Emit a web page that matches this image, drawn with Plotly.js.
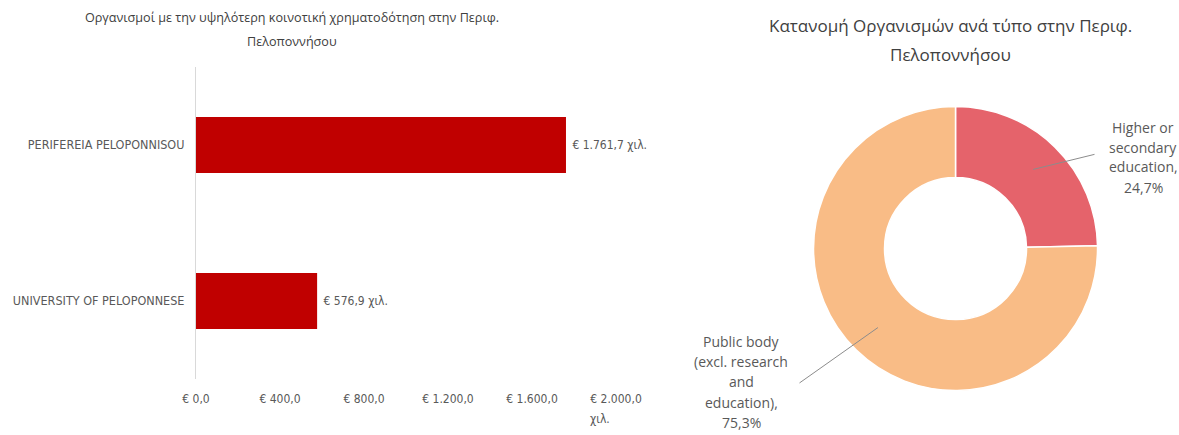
<!DOCTYPE html>
<html>
<head>
<meta charset="utf-8">
<script src="https://cdn.plot.ly/plotly-3.0.1.min.js"></script>
<style>html,body{margin:0;padding:0;background:#fff;}#chart{width:1179px;height:435px;}</style>
</head>
<body>
<div id="chart"></div>
<script>
// ---- data ----
const barCategories = ["PERIFEREIA PELOPONNISOU", "UNIVERSITY OF PELOPONNESE"];
const barValues = [1761.7, 576.9];
const barTickVals = [0, 400, 800, 1200, 1600, 2000];
const barUnit = "χιλ.";
const barTitleLines = ["Οργανισμοί με την υψηλότερη κοινοτική χρηματοδότηση στην Περιφ.", "Πελοποννήσου"];

const pieLabels = ["Higher or secondary education", "Public body (excl. research and education)"];
const pieLabelLines = [["Higher or", "secondary", "education,"], ["Public body", "(excl. research", "and", "education),"]];
const pieValues = [24.7, 75.3];
const pieColors = ["#E5636B", "#F9BC86"];
const pieTitleLines = ["Κατανομή Οργανισμών ανά τύπο στην Περιφ.", "Πελοποννήσου"];

function fmtNum(v) {
  const parts = v.toFixed(1).split(".");
  const intPart = parts[0].replace(/\B(?=(\d{3})+(?!\d))/g, ".");
  return intPart + "," + parts[1];
}
const tickText = barTickVals.map(v => "€ " + fmtNum(v));

const W = 1179, H = 435;
const smallFont = "DejaVu Sans Condensed, Liberation Sans, sans-serif";
const textGray = "#595959";
const pieDomX = [0.69, 0.9309];
const pieDomY = [0.1023, 0.7552];

const barTrace = {
  type: "bar",
  orientation: "h",
  y: barCategories,
  x: barValues,
  width: 0.36,
  marker: {color: "#C00000"},
  text: barValues.map(v => "\u00A0€ " + fmtNum(v) + " " + barUnit),
  textposition: "outside",
  textfont: {family: smallFont, size: 12, color: textGray},
  cliponaxis: false,
  hoverinfo: "none",
  xaxis: "x", yaxis: "y"
};

const pieTrace = {
  type: "pie",
  labels: pieLabels,
  values: pieValues,
  hole: 0.5,
  sort: false,
  direction: "clockwise",
  rotation: 0,
  marker: {colors: pieColors, line: {color: "#ffffff", width: 1.5}},
  textinfo: "none",
  showlegend: false,
  domain: {x: pieDomX, y: pieDomY}
};

// helper: multi-line text block as one annotation per line (pixel positions)
function textBlock(lines, cxPx, topPx, lineH, font) {
  return lines.map((t, i) => ({
    xref: "paper", yref: "paper", x: cxPx / W, y: 1 - (topPx + i * lineH) / H,
    xanchor: "center", yanchor: "middle", showarrow: false, text: t, font: font
  }));
}

// leader lines anchored at slice mid-angles
const cx = (pieDomX[0] + pieDomX[1]) / 2 * W;
const cy = (1 - (pieDomY[0] + pieDomY[1]) / 2) * H;
const R = (pieDomX[1] - pieDomX[0]) * W / 2;
const total = pieValues.reduce((a, b) => a + b, 0);
const leaderTail = [[1096, 154], [798, 384]];
const labelBlockPos = [[1143, 127, 20], [741, 341, 20.4]];
const pieFont = {family: "Open Sans", size: 14, color: textGray};
let cum = 0;
let pieAnnots = [];
pieValues.forEach((v, i) => {
  const mid = (cum + v / 2) / total * 2 * Math.PI;
  cum += v;
  const px = cx + 0.78 * R * Math.sin(mid);
  const py = cy - 0.78 * R * Math.cos(mid);
  pieAnnots.push({
    xref: "paper", yref: "paper", x: px / W, y: 1 - py / H,
    axref: "pixel", ayref: "pixel", ax: leaderTail[i][0] - px, ay: leaderTail[i][1] - py,
    showarrow: true, arrowhead: 0, arrowwidth: 1, arrowcolor: "#8c8c8c",
    text: " ", font: {size: 1}, standoff: 0, startstandoff: 0
  });
  pieAnnots = pieAnnots.concat(textBlock(pieLabelLines[i].concat([fmtNum(v) + "%"]),
    labelBlockPos[i][0], labelBlockPos[i][1], labelBlockPos[i][2], pieFont));
});

const titleAnnots = textBlock(barTitleLines, 292, 18, 23, {family: "Open Sans", size: 12.6, color: "#404040"})
  .concat(textBlock(pieTitleLines, 950, 25, 29, {family: "Open Sans", size: 17, color: "#404040"}));

const unitAnnot = {
  xref: "x", yref: "paper", x: barTickVals[barTickVals.length - 1], y: 1 - 419 / H,
  xanchor: "left", yanchor: "middle", xshift: -28, showarrow: false, text: barUnit,
  font: {family: smallFont, size: 12, color: textGray}
};

const layout = {
  width: W, height: H,
  margin: {l: 0, r: 0, t: 0, b: 0},
  paper_bgcolor: "#ffffff", plot_bgcolor: "#ffffff",
  showlegend: false,
  xaxis: {
    domain: [0.1662, 0.5225], range: [0, 2000],
    tickvals: barTickVals, ticktext: tickText,
    showgrid: false, zeroline: false, showline: false, ticks: "",
    ticklabelstandoff: 11,
    tickfont: {family: smallFont, size: 12, color: textGray},
    fixedrange: true
  },
  yaxis: {
    domain: [0.1287, 0.846], autorange: "reversed",
    showgrid: false, zeroline: false, showline: true, linecolor: "#d9d9d9", linewidth: 1,
    ticks: "", ticklabelstandoff: 8,
    tickfont: {family: smallFont, size: 12.5, color: textGray},
    fixedrange: true
  },
  annotations: titleAnnots.concat(pieAnnots, [unitAnnot])
};

Plotly.newPlot("chart", [barTrace, pieTrace], layout, {displayModeBar: false, staticPlot: true});
</script>
</body>
</html>
